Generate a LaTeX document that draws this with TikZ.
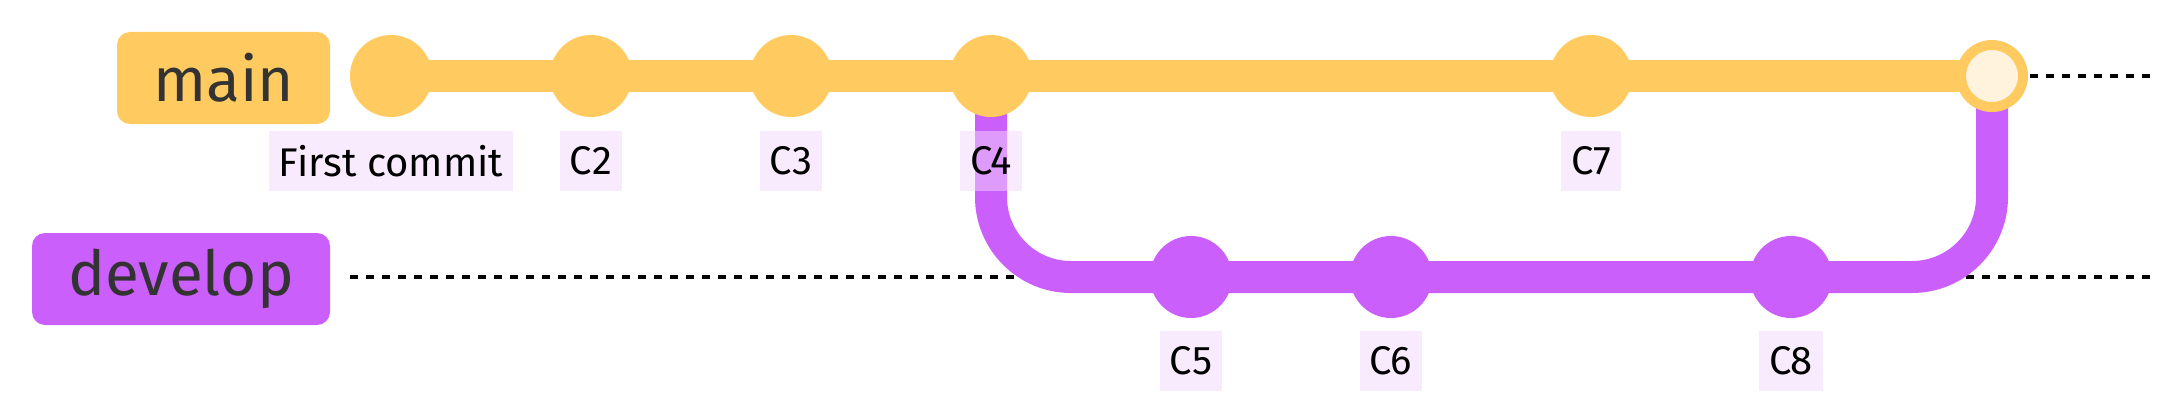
\documentclass[tikz,border=0pt]{standalone}
\usepackage{fontspec}
\setmainfont{Fira Sans}
\definecolor{mainc}{HTML}{FFCA5F}
\definecolor{devc}{HTML}{CB5FFC}
\definecolor{mergefill}{HTML}{FFF3DD}
\definecolor{lblbg}{HTML}{F2D8FD}
\definecolor{txtc}{HTML}{333333}
\pgfdeclarelayer{dots}
\pgfdeclarelayer{bg}
\pgfsetlayers{dots,bg,main}
\begin{document}
\begin{tikzpicture}[x=1pt,y=-1pt,
  commit/.style={circle,minimum size=82pt,inner sep=0pt,draw=none},
  mergecommit/.style={circle,minimum size=62pt,inner sep=0pt,draw=mainc,line width=10pt,fill=mergefill},
  lbl/.style={fill=lblbg,fill opacity=0.5,text opacity=1,text=black,inner xsep=10pt,inner ysep=0pt,minimum height=60pt,font=\fontsize{40}{48}\selectfont},
  branchlbl/.style={rounded corners=13pt,minimum height=92pt,inner sep=0pt,text=txtc,font=\fontsize{62}{70}\selectfont},
  mainline/.style={draw=mainc,line width=32pt},
  devline/.style={draw=devc,line width=32pt,rounded corners=80pt},
  dotline/.style={draw=black,line width=3.5pt,dash pattern=on 7.5pt off 8.5pt}
]
\useasboundingbox (0,0) rectangle (2180,420);
% branch labels
\node[branchlbl,fill=mainc,minimum width=213pt] (bmain) at (223.5,78) {main};
\node[branchlbl,fill=devc,minimum width=298pt] (bdev) at (181,279) {develop};
% end points of the dotted branch lines
\coordinate (ms) at (350,76);
\coordinate (me) at (2152,76);
\coordinate (ds) at (350,277);
\coordinate (de) at (2152,277);
% commits
\node[commit,fill=mainc] (c1) at (391,76) {};
\node[commit,fill=mainc] (c2) at (591,76) {};
\node[commit,fill=mainc] (c3) at (791,76) {};
\node[commit,fill=mainc] (c4) at (991,76) {};
\node[commit,fill=devc] (c5) at (1191,277) {};
\node[commit,fill=devc] (c6) at (1391,277) {};
\node[commit,fill=mainc] (c7) at (1591,76) {};
\node[commit,fill=devc] (c8) at (1791,277) {};
\node[mergecommit] (m) at (1992,76) {};
% labels
\node[lbl] (l1) at (391,161) {First commit};
\node[lbl] (l2) at (591,161) {C2};
\node[lbl] (l3) at (791,161) {C3};
\node[lbl] (l4) at (991,161) {C4};
\node[lbl] (l5) at (1191,361) {C5};
\node[lbl] (l6) at (1391,361) {C6};
\node[lbl] (l7) at (1591,161) {C7};
\node[lbl] (l8) at (1791,361) {C8};
\begin{pgfonlayer}{dots}
\draw[dotline] (ms) -- (me);
\draw[dotline] (ds) -- (de);
\end{pgfonlayer}
\begin{pgfonlayer}{bg}
\draw[devline] (c4.center) |- (c5.center) -- (c6.center) -- (c8.center) -| (m.center);
\draw[mainline] (c1.center) -- (c2.center) -- (c3.center) -- (c4.center) -- (c7.center) -- (m.center);
\end{pgfonlayer}
\end{tikzpicture}
\end{document}
